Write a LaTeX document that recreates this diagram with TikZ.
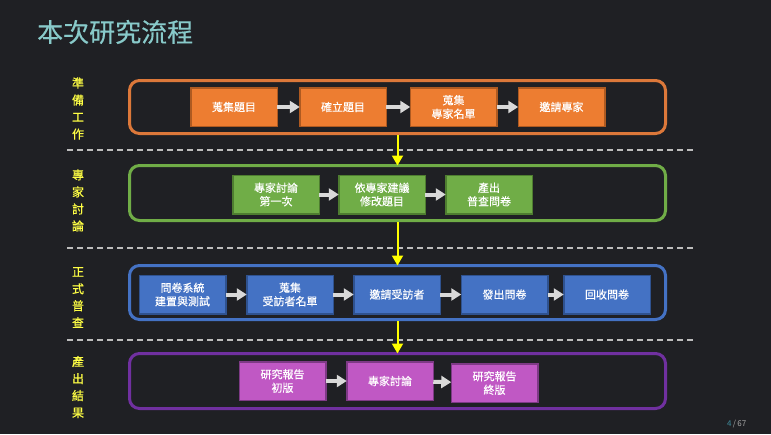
\documentclass[tikz,border=0pt]{standalone}
\usepackage{fontspec}
\setmainfont{Noto Sans CJK TC}
\newfontfamily\cjk{Noto Sans CJK TC}
\newfontfamily\cjkb[FakeBold=0.3]{Noto Sans CJK TC}
\newfontfamily\cjkbb[FakeBold=0.6]{Noto Sans CJK TC}
\usetikzlibrary{arrows.meta}
\definecolor{bgc}{HTML}{1F2024}
\definecolor{titlec}{HTML}{88CACA}
\definecolor{labely}{HTML}{FFFF45}
\definecolor{yel}{HTML}{FFFF00}
\definecolor{sepgray}{HTML}{BDBDBD}
\definecolor{arrowgray}{HTML}{D9D9D9}
\definecolor{ofill}{HTML}{ED7D31}
\definecolor{oline}{HTML}{AE5A21}
\definecolor{ogroup}{HTML}{DC783A}
\definecolor{gfill}{HTML}{70AD47}
\definecolor{gline}{HTML}{4E7D30}
\definecolor{ggroup}{HTML}{70AD47}
\definecolor{bfill}{HTML}{4472C4}
\definecolor{bline}{HTML}{2F528F}
\definecolor{bgroup}{HTML}{4472C4}
\definecolor{pfill}{HTML}{C058C4}
\definecolor{pline}{HTML}{7E3A86}
\definecolor{pgroup}{HTML}{7030A0}
\definecolor{pgnum}{HTML}{3F8C9C}
\definecolor{pggray}{HTML}{A8A8A8}
\begin{document}
\begin{tikzpicture}[x=1pt,y=-1pt,
  group/.style={draw, line width=3pt, rounded corners=10pt, minimum width=536pt, inner sep=0pt, outer sep=0pt},
  stepbox/.style={draw, line width=1.5pt, minimum width=86.5pt, minimum height=38.5pt, inner sep=0pt, outer sep=0pt,
    text=white, font=\cjkb\fontsize{11}{13.5}\selectfont, align=center},
  flow/.style={-{Triangle[length=10pt,width=12pt]}, line width=4pt, draw=arrowgray},
  down/.style={-{Triangle[length=10pt,width=11pt]}, line width=2pt, draw=yel, shorten <=1.5pt},
  side/.style={text=labely, font=\cjkbb\fontsize{12}{17}\selectfont, align=center, inner sep=0pt},
  sep/.style={draw=sepgray, line width=2pt, dash pattern=on 6pt off 4pt}
]
\fill[bgc] (0,0) rectangle (771,434);
\useasboundingbox (0,0) rectangle (771,434);

% title
\node[anchor=west, text=titlec, font=\cjkb\fontsize{26}{30}\selectfont, inner sep=0pt] (title) at (37,32) {本次研究流程};

% separators
\coordinate (s1a) at (67,150); \coordinate (s1b) at (693,150);
\coordinate (s2a) at (67,248); \coordinate (s2b) at (693,248);
\coordinate (s3a) at (67,340); \coordinate (s3b) at (693,340);
\draw[sep] (s1a) -- (s1b);
\draw[sep] (s2a) -- (s2b);
\draw[sep] (s3a) -- (s3b);

% side labels
\node[side] (l1) at (78,108.5) {準\\備\\工\\作};
\node[side] (l2) at (78,200.5) {專\\家\\討\\論};
\node[side] (l3) at (78,297.5) {正\\式\\普\\查};
\node[side] (l4) at (78,387) {產\\出\\結\\果};

% groups
\node[group, draw=ogroup, minimum height=53pt] (G1) at (397.5,107) {};
\node[group, draw=ggroup, minimum height=55pt] (G2) at (397.5,193) {};
\node[group, draw=bgroup, minimum height=54pt] (G3) at (397.5,292.5) {};
\node[group, draw=pgroup, minimum height=55pt] (G4) at (397.5,381) {};

% orange row
\node[stepbox, fill=ofill, draw=oline] (o1) at (234,107) {蒐集題目};
\node[stepbox, fill=ofill, draw=oline] (o2) at (343,107) {確立題目};
\node[stepbox, fill=ofill, draw=oline] (o3) at (453.5,107) {蒐集\\專家名單};
\node[stepbox, fill=ofill, draw=oline] (o4) at (561.5,107) {邀請專家};

% green row
\node[stepbox, fill=gfill, draw=gline] (g1) at (276,194.5) {專家討論\\第一次};
\node[stepbox, fill=gfill, draw=gline] (g2) at (382,194.5) {依專家建議\\修改題目};
\node[stepbox, fill=gfill, draw=gline] (g3) at (489,194.5) {產出\\普查問卷};

% blue row
\node[stepbox, fill=bfill, draw=bline] (b1) at (182.5,294.5) {問卷系統\\建置與測試};
\node[stepbox, fill=bfill, draw=bline] (b2) at (290,294.5) {蒐集\\受訪者名單};
\node[stepbox, fill=bfill, draw=bline] (b3) at (397,294.5) {邀請受訪者};
\node[stepbox, fill=bfill, draw=bline] (b4) at (504.5,294.5) {發出問卷};
\node[stepbox, fill=bfill, draw=bline] (b5) at (607,294.5) {回收問卷};

% purple row
\node[stepbox, fill=pfill, draw=pline] (p1) at (282.5,381) {研究報告\\初版};
\node[stepbox, fill=pfill, draw=pline] (p2) at (390,381) {專家討論};
\node[stepbox, fill=pfill, draw=pline] (p3) at (494.5,383) {研究報告\\終版};

% flow arrows
\draw[flow] (o1) -- (o2);
\draw[flow] (o2) -- (o3);
\draw[flow] (o3) -- (o4);
\draw[flow] (g1) -- (g2);
\draw[flow] (g2) -- (g3);
\draw[flow] (b1) -- (b2);
\draw[flow] (b2) -- (b3);
\draw[flow] (b3) -- (b4);
\draw[flow] (b4) -- (b5);
\draw[flow] (p1) -- (p2);
\draw[flow] (p2) -- (p3);

% stage arrows
\draw[down] (G1.south) -- (G2.north);
\draw[down] (G2.south) -- (G3.north);
\draw[down] (G3.south) -- (G4.north);

% page number
\node[anchor=west, inner sep=0pt, font=\cjk\fontsize{8}{9}\selectfont, text=pggray] (pg) at (727,424) {\textcolor{pgnum}{4}\,/\,67};
\end{tikzpicture}
\end{document}
